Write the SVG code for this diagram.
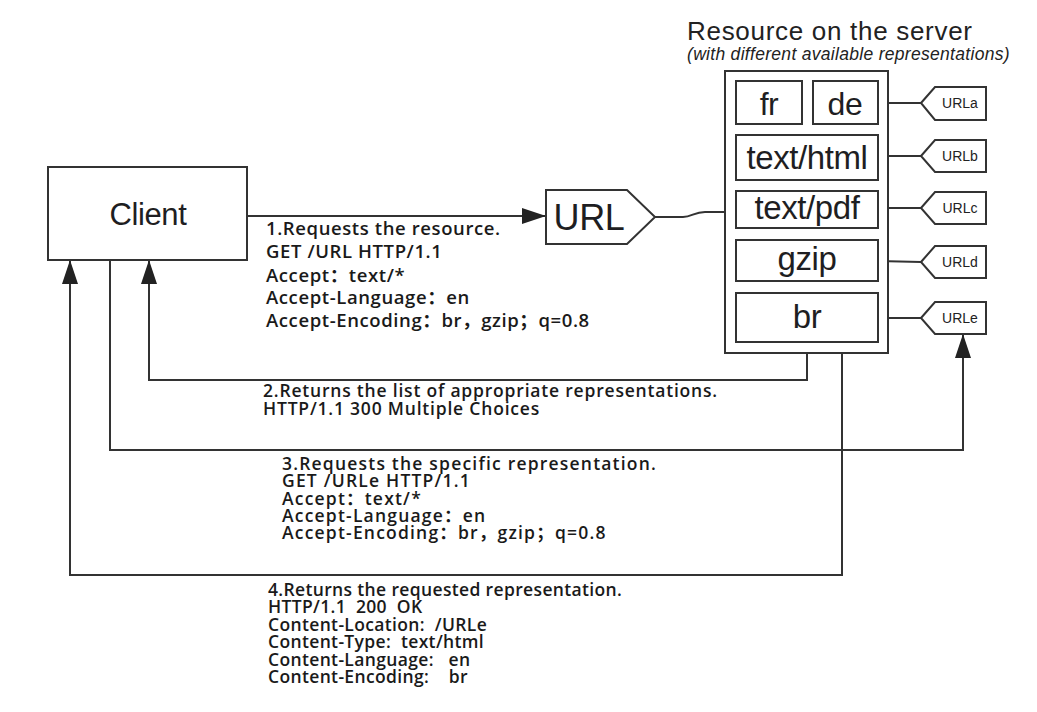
<svg xmlns="http://www.w3.org/2000/svg" width="1037" height="712" viewBox="0 0 1037 712">
<style>
.bx{fill:#fff;stroke:#333;stroke-width:2}
.ln{fill:none;stroke:#333;stroke-width:2}
.big{font-family:"Liberation Sans",Arial,sans-serif;fill:#1e1e22;text-anchor:middle;letter-spacing:-0.4px}
.tag{font-family:"Liberation Sans",Arial,sans-serif;font-size:14px;fill:#222;text-anchor:middle}
.msg{font-family:"Open Sans","Noto Sans CJK SC",sans-serif;font-weight:600;fill:#1a1a1a;white-space:pre}
</style>
<defs>
<marker id="arr" viewBox="0 0 24 16" refX="24" refY="8" markerWidth="24" markerHeight="16" markerUnits="userSpaceOnUse" orient="auto">
<path d="M0,0 L24,8 L0,16 z" fill="#222"/>
</marker>
</defs>
<rect width="1037" height="712" fill="#fff"/>

<g id="title">
<text x="687" y="40" font-family="Liberation Sans,Arial,sans-serif" font-size="26" letter-spacing="0.7" fill="#222">Resource on the server</text>
<text x="687" y="60" font-family="Liberation Sans,Arial,sans-serif" font-size="17.5" letter-spacing="0.3" font-style="italic" fill="#222">(with different available representations)</text>
</g>

<g id="connectors">
<line class="ln" x1="247" y1="216" x2="546" y2="216" marker-end="url(#arr)"/>
<path class="ln" d="M655,217 L683,217 C692,217 694,212 705,212 L725,212"/>
<line class="ln" x1="878" y1="103" x2="921" y2="103"/>
<line class="ln" x1="878" y1="156" x2="921" y2="156"/>
<line class="ln" x1="878" y1="208" x2="921" y2="208"/>
<line class="ln" x1="878" y1="261" x2="921" y2="262"/>
<line class="ln" x1="878" y1="318" x2="921" y2="318"/>
<polyline class="ln" points="807,353 807,380 149,380 149,260" marker-end="url(#arr)"/>
<polyline class="ln" points="110,260 110,450 963,450 963,334" marker-end="url(#arr)"/>
<polyline class="ln" points="842,342 842,575 70,575 70,260" marker-end="url(#arr)"/>
</g>

<g id="client">
<rect class="bx" x="48" y="167" width="199" height="93"/>
<text class="big" x="148" y="225" font-size="31">Client</text>
</g>

<g id="url">
<path class="bx" d="M546,190 L627,190 L655,217 L627,244 L546,244 z"/>
<text class="big" x="589" y="230" font-size="36">URL</text>
</g>

<g id="resource">
<rect class="bx" x="725" y="71" width="163" height="282"/>
</g>
<g id="fr">
<rect class="bx" x="736" y="81" width="66" height="43"/>
<text class="big" x="769" y="115" font-size="32">fr</text>
</g>
<g id="de">
<rect class="bx" x="813" y="81" width="65" height="43"/>
<text class="big" x="845" y="115" font-size="32">de</text>
</g>
<g id="texthtml">
<rect class="bx" x="736" y="135" width="142" height="45"/>
<text class="big" x="807" y="169" font-size="33">text/html</text>
</g>
<g id="textpdf">
<rect class="bx" x="736" y="191" width="142" height="37"/>
<text class="big" x="807" y="219" font-size="33">text/pdf</text>
</g>
<g id="gzip">
<rect class="bx" x="736" y="240" width="142" height="41"/>
<text class="big" x="807" y="270" font-size="33">gzip</text>
</g>
<g id="br">
<rect class="bx" x="736" y="293" width="142" height="49"/>
<text class="big" x="807" y="328" font-size="33">br</text>
</g>

<g id="urla">
<path class="bx" d="M921,103 L935,87 L986,87 L986,120 L935,120 z"/>
<text class="tag" x="960" y="108">URLa</text>
</g>
<g id="urlb">
<path class="bx" d="M921,156 L935,140 L986,140 L986,172 L935,172 z"/>
<text class="tag" x="960" y="161">URLb</text>
</g>
<g id="urlc">
<path class="bx" d="M921,208 L935,192 L986,192 L986,224 L935,224 z"/>
<text class="tag" x="960" y="213">URLc</text>
</g>
<g id="urld">
<path class="bx" d="M921,262 L935,246 L986,246 L986,278 L935,278 z"/>
<text class="tag" x="960" y="267">URLd</text>
</g>
<g id="urle">
<path class="bx" d="M921,318 L935,302 L986,302 L986,334 L935,334 z"/>
<text class="tag" x="960" y="323">URLe</text>
</g>

<g id="msg1">
<text class="msg" font-size="18.5" letter-spacing="0.6">
<tspan x="266" y="235">1.Requests the resource.</tspan>
<tspan x="266" y="258">GET /URL HTTP/1.1</tspan>
<tspan x="266" y="282">Accept：text/*</tspan>
<tspan x="266" y="304">Accept-Language：en</tspan>
<tspan x="266" y="327">Accept-Encoding：br，gzip；q=0.8</tspan>
</text>
</g>
<g id="msg2">
<text class="msg" font-size="17.5" letter-spacing="0.8">
<tspan x="263" y="397">2.Returns the list of appropriate representations.</tspan>
<tspan x="263" y="415">HTTP/1.1 300 Multiple Choices</tspan>
</text>
</g>
<g id="msg3">
<text class="msg" font-size="17.5" letter-spacing="1.2">
<tspan x="282" y="470">3.Requests the specific representation.</tspan>
<tspan x="282" y="487">GET /URLe HTTP/1.1</tspan>
<tspan x="282" y="505">Accept：text/*</tspan>
<tspan x="282" y="522">Accept-Language：en</tspan>
<tspan x="282" y="539">Accept-Encoding：br，gzip；q=0.8</tspan>
</text>
</g>
<g id="msg4">
<text class="msg" font-size="17.5" letter-spacing="0.35">
<tspan x="268" y="596">4.Returns the requested representation.</tspan>
<tspan x="268" y="613">HTTP/1.1  200  OK</tspan>
<tspan x="268" y="631">Content-Location:  /URLe</tspan>
<tspan x="268" y="648">Content-Type:  text/html</tspan>
<tspan x="268" y="666">Content-Language:   en</tspan>
<tspan x="268" y="683">Content-Encoding:    br</tspan>
</text>
</g>
</svg>
